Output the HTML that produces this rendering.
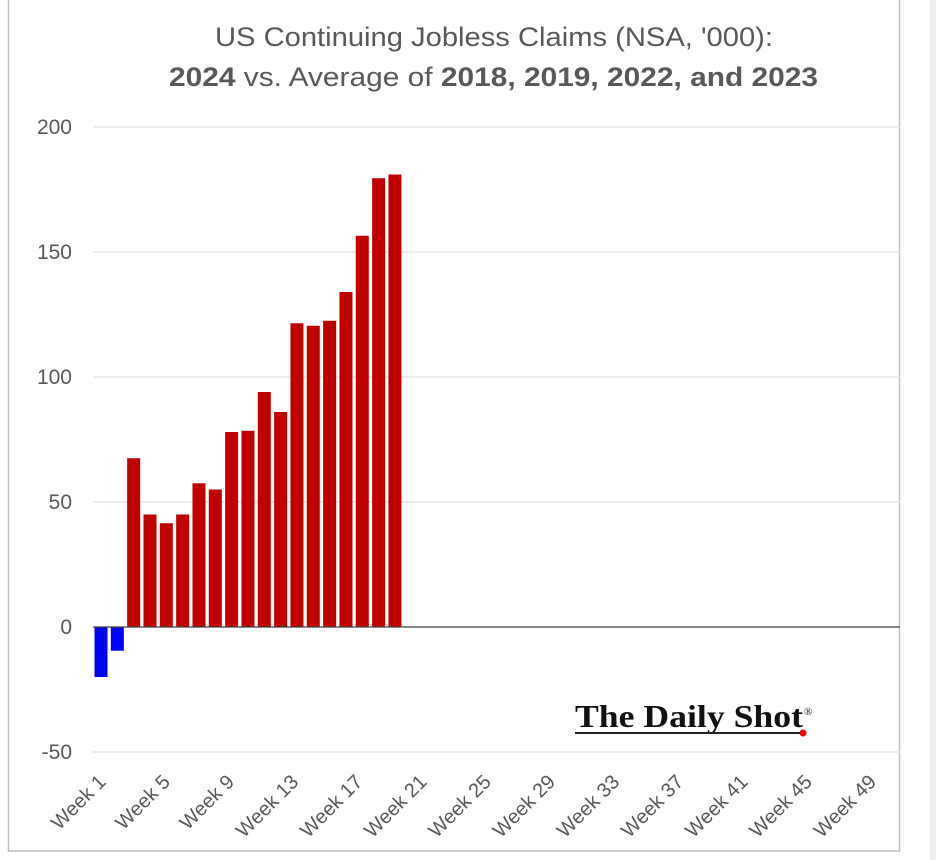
<!DOCTYPE html>
<html><head><meta charset="utf-8"><style>body{margin:0;background:#fff}svg{display:block}</style></head><body>
<svg width="936" height="860" viewBox="0 0 936 860" xmlns="http://www.w3.org/2000/svg" font-family="'Liberation Sans', sans-serif">
<rect x="0" y="0" width="936" height="860" fill="#fff"/>
<rect x="930" y="0" width="6" height="860" fill="#f0f0f0"/>
<rect x="8.5" y="-1" width="891" height="852" fill="none" stroke="#bfbfbf" stroke-width="1.5"/>
<text x="215" y="46" font-size="27" fill="#595959" textLength="558" lengthAdjust="spacingAndGlyphs">US Continuing Jobless Claims (NSA, '000):</text>
<text x="169" y="86" font-size="27" fill="#595959" textLength="649" lengthAdjust="spacingAndGlyphs"><tspan font-weight="bold">2024</tspan> vs. Average of <tspan font-weight="bold">2018, 2019, 2022, and 2023</tspan></text>
<g stroke="#e0e0e0" stroke-width="1.2">
<line x1="93" x2="900" y1="127" y2="127"/><line x1="93" x2="900" y1="252" y2="252"/><line x1="93" x2="900" y1="377" y2="377"/><line x1="93" x2="900" y1="502" y2="502"/><line x1="93" x2="900" y1="752" y2="752"/>
</g>
<g font-size="21" fill="#595959" text-anchor="end">
<text x="72" y="134">200</text><text x="72" y="259">150</text><text x="72" y="384">100</text><text x="72" y="509">50</text><text x="72" y="634">0</text><text x="72" y="759">-50</text>
</g>
<g fill="#c00000">
<rect x="127.16" y="458.25" width="13" height="168.75"/>
<rect x="143.49" y="514.5" width="13" height="112.5"/>
<rect x="159.82" y="523.25" width="13" height="103.75"/>
<rect x="176.15" y="514.5" width="13" height="112.5"/>
<rect x="192.48" y="483.25" width="13" height="143.75"/>
<rect x="208.81" y="489.5" width="13" height="137.5"/>
<rect x="225.14" y="432" width="13" height="195"/>
<rect x="241.47" y="430.75" width="13" height="196.25"/>
<rect x="257.8" y="392" width="13" height="235"/>
<rect x="274.13" y="412" width="13" height="215"/>
<rect x="290.46" y="323.25" width="13" height="303.75"/>
<rect x="306.79" y="325.75" width="13" height="301.25"/>
<rect x="323.12" y="320.75" width="13" height="306.25"/>
<rect x="339.45" y="292" width="13" height="335"/>
<rect x="355.78" y="235.75" width="13" height="391.25"/>
<rect x="372.11" y="178.25" width="13" height="448.75"/>
<rect x="388.44" y="174.5" width="13" height="452.5"/>
</g>
<g fill="#0000ff">
<rect x="94.5" y="627" width="13" height="50"/>
<rect x="110.83" y="627" width="13" height="23.75"/>
</g>
<line x1="93" x2="900" y1="627" y2="627" stroke="#404040" stroke-width="1.3"/>
<g font-size="20" fill="#595959" text-anchor="end">
<text x="107" y="783" transform="rotate(-45 107 783)">Week 1</text>
<text x="171.2" y="783" transform="rotate(-45 171.2 783)">Week 5</text>
<text x="235.4" y="783" transform="rotate(-45 235.4 783)">Week 9</text>
<text x="299.6" y="783" transform="rotate(-45 299.6 783)">Week 13</text>
<text x="363.8" y="783" transform="rotate(-45 363.8 783)">Week 17</text>
<text x="428" y="783" transform="rotate(-45 428 783)">Week 21</text>
<text x="492.2" y="783" transform="rotate(-45 492.2 783)">Week 25</text>
<text x="556.4" y="783" transform="rotate(-45 556.4 783)">Week 29</text>
<text x="620.6" y="783" transform="rotate(-45 620.6 783)">Week 33</text>
<text x="684.8" y="783" transform="rotate(-45 684.8 783)">Week 37</text>
<text x="749" y="783" transform="rotate(-45 749 783)">Week 41</text>
<text x="813.2" y="783" transform="rotate(-45 813.2 783)">Week 45</text>
<text x="877.4" y="783" transform="rotate(-45 877.4 783)">Week 49</text>
</g>
<text x="575" y="727" font-family="'Liberation Serif', serif" font-weight="bold" font-size="32" fill="#111" textLength="228" lengthAdjust="spacingAndGlyphs">The Daily Shot</text>
<text x="804" y="715" font-family="'Liberation Serif', serif" font-size="11" fill="#111">®</text>
<line x1="575" x2="800" y1="733" y2="733" stroke="#222" stroke-width="2"/>
<circle cx="803" cy="733" r="3.5" fill="#e00"/>
</svg>
</body></html>
